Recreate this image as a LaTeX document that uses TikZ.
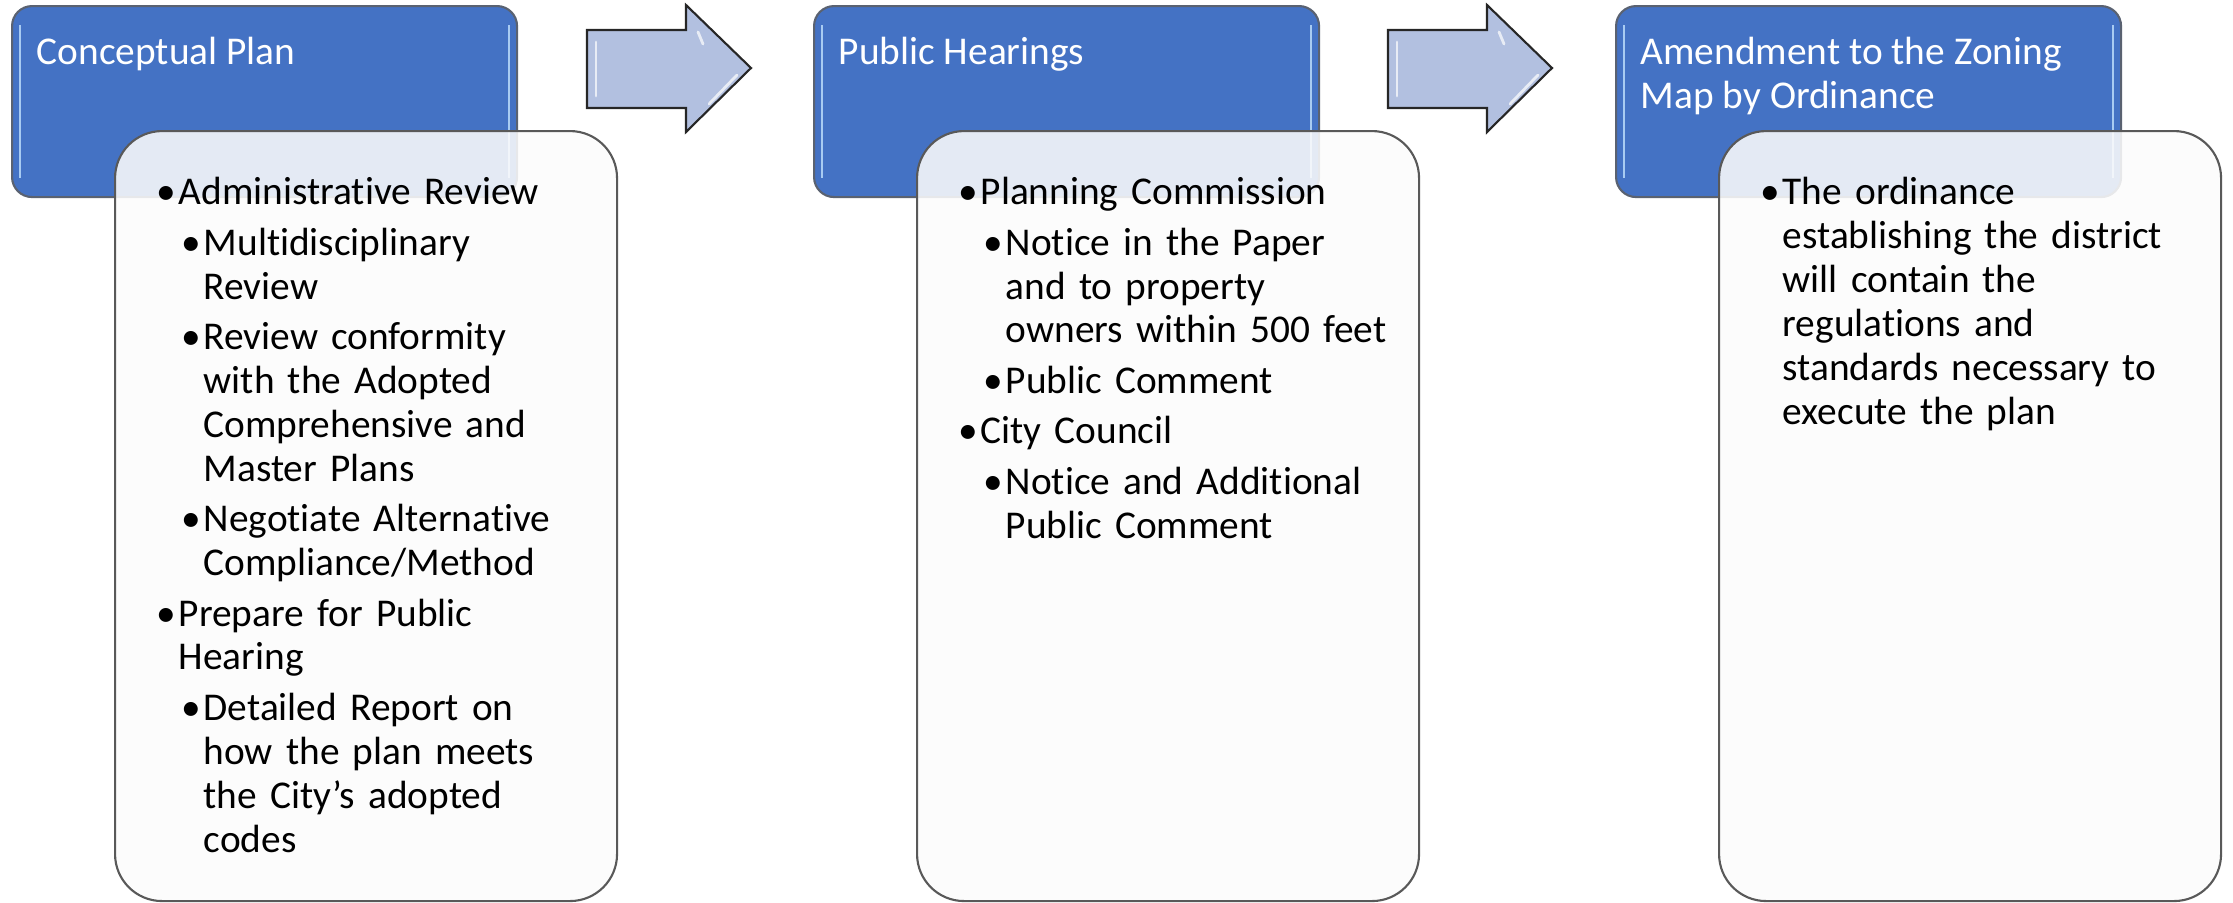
\documentclass[tikz,border=0pt]{standalone}
\usepackage{fontspec}
\setmainfont{Carlito}[Ligatures=NoCommon]
\usepackage{enumitem}
\usetikzlibrary{calc}

\definecolor{stepblue}{HTML}{4472C4}
\definecolor{steprim}{HTML}{5A6271}
\definecolor{stepglow}{HTML}{A8CBF2}
\definecolor{arrowfill}{HTML}{B2C0E0}

\setlist[itemize]{label=\textbullet, partopsep=0pt, parsep=0pt, itemsep=1.85pt, topsep=1.85pt, labelsep=0.3mm}
\setlist[itemize,1]{leftmargin=2.4mm, topsep=0pt}
\setlist[itemize,2]{leftmargin=2.5mm}

\newcommand{\topstrut}{\rule{0pt}{9pt}}

\tikzset{
  titlebox/.style={rectangle, rounded corners=2mm, fill=stepblue, draw=steprim, line width=0.6pt,
    minimum width=50.5mm, minimum height=19.1mm, inner sep=0pt, anchor=north west},
  detailbox/.style={rectangle, rounded corners=4.7mm, fill=black!1, fill opacity=0.87, draw=black!65,
    line width=0.6pt, minimum width=50.2mm, minimum height=77mm, inner sep=0pt, anchor=north west},
  titletext/.style={anchor=north west, inner sep=0pt, text=white, align=left},
  bodytext/.style={anchor=north west, inner sep=0pt, text width=45mm, align=left},
  stepshape/.style={fill=arrowfill, draw=black!85, line width=0.6pt, line join=miter},
  bevel/.style={white, opacity=0.7, line width=0.8pt, line cap=round}
}

\begin{document}
\begin{tikzpicture}[x=0.1mm, y=-0.1mm, font=\fontsize{11.2}{12.5}\selectfont]
\useasboundingbox (0,0) rectangle (2233,902);

\foreach \n/\bx in {1/11, 2/813, 3/1615}
\node[titlebox] (title\n) at (\bx,5) {};

\foreach \n in {1,2,3} {
\draw[stepglow, line width=0.7pt] ($(title\n.north west)+(9,20)$) -- ($(title\n.south west)+(9,-20)$);
\draw[stepglow, line width=0.7pt] ($(title\n.north east)+(-9,20)$) -- ($(title\n.south east)+(-9,-20)$);
}

\foreach \ax in {587,1388} {
\draw[stepshape] (\ax,30) -- ++(99,0) -- ++(0,-25) -- ({\ax+164},68) -- ({\ax+99},132) -- ++(0,-24) -- (\ax,108) -- cycle;
\draw[bevel] ({\ax+9},42) -- ({\ax+9},96);
\draw[bevel] ({\ax+111},32) -- ({\ax+116},44);
\draw[bevel] ({\ax+150},75) -- ({\ax+122},104);
}

\node[detailbox] (detail1) at (114,130) {};
\node[detailbox] (detail2) at (916,130) {};
\node[detailbox] (detail3) at (1718,130) {};

\node[titletext] (label1) at (36,32) {\topstrut Conceptual Plan};
\node[titletext] (label2) at (838,32) {\topstrut Public Hearings};
\node[titletext] (label3) at (1640,32) {\topstrut Amendment to the Zoning\\Map by Ordinance};

\node[bodytext] (items1) at (154,160) {%
\begin{itemize}
\item \topstrut Administrative Review
  \begin{itemize}
  \item Multidisciplinary\newline Review
  \item Review conformity\newline with the Adopted\newline Comprehensive and\newline Master Plans
  \item Negotiate Alternative\newline Compliance/Method
  \end{itemize}
\item Prepare for Public\newline Hearing
  \begin{itemize}
  \item Detailed Report on\newline how the plan meets\newline the City’s adopted\newline codes
  \end{itemize}
\end{itemize}};

\node[bodytext] (items2) at (956,160) {%
\begin{itemize}
\item \topstrut Planning Commission
  \begin{itemize}
  \item Notice in the Paper\newline and to property\newline owners within 500 feet
  \item Public Comment
  \end{itemize}
\item City Council
  \begin{itemize}
  \item Notice and Additional\newline Public Comment
  \end{itemize}
\end{itemize}};

\node[bodytext] (items3) at (1758,160) {%
\begin{itemize}
\item \topstrut The ordinance\newline establishing the district\newline will contain the\newline regulations and\newline standards necessary to\newline execute the plan
\end{itemize}};

\end{tikzpicture}
\end{document}
